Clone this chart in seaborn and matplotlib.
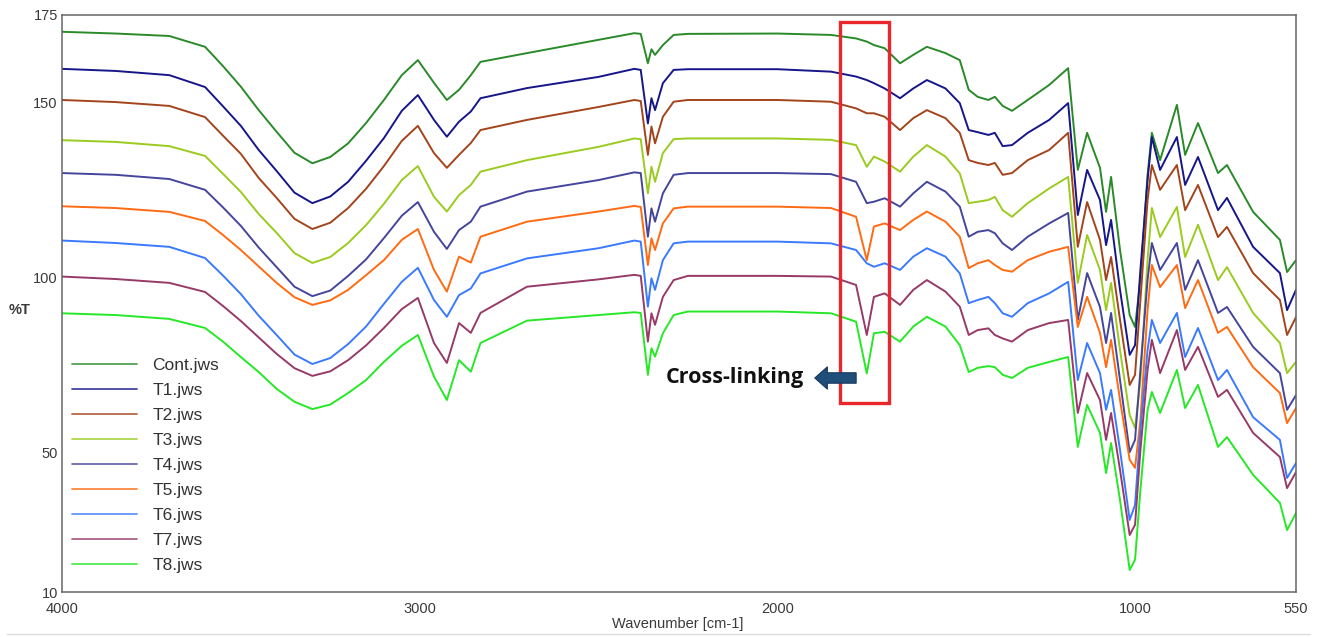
import matplotlib
matplotlib.use('Agg')
import matplotlib.pyplot as plt
import pandas as pd
import seaborn as sns

# wavenumber grid (cm-1)
wavenumber = [4000, 3850, 3700, 3600, 3550, 3500, 3450, 3400, 3350, 3300,
              3250, 3200, 3150, 3100, 3050, 3005,
              2960, 2924, 2890, 2857, 2830, 2700, 2500, 2400, 2382, 2362,
              2352, 2342, 2320, 2290, 2250, 2000, 1850, 1780, 1750, 1730,
              1700, 1657, 1620, 1582, 1530, 1490, 1465, 1440, 1410, 1392,
              1370, 1344, 1300, 1240, 1187, 1160, 1134, 1098, 1081, 1067,
              1042, 1015, 1000, 985, 965, 953, 930, 883, 860, 824,
              768, 743, 670, 595, 575, 550]

cont = [170.2, 169.7, 169.0, 165.9, 160.4, 154.5, 147.8, 141.6, 135.6, 132.6,
        134.4, 138.3, 144.1, 150.7, 157.8, 162.1,
        155.6, 150.7, 153.6, 157.8, 161.6, 164.1, 167.9, 169.8, 169.6, 161.2,
        165.2, 163.6, 166.4, 169.3, 169.6, 169.7, 169.3, 168.3, 167.4, 166.4,
        165.5, 161.2, 163.6, 165.9, 164.1, 162.1, 153.6, 151.6, 150.7, 151.6,
        149.0, 147.6, 150.7, 155.0, 159.8, 130.7, 141.3, 131.3, 118.7, 128.7,
        107.8, 89.2, 85.8, 99.2, 129.3, 141.3, 133.5, 149.3, 135.0, 144.1,
        129.8, 132.1, 118.7, 110.7, 101.5, 104.9]
t1 = [159.6, 159.0, 157.8, 154.4, 148.9, 143.3, 136.4, 130.4, 124.2, 121.2,
      123.1, 127.3, 133.3, 139.8, 147.6, 152.1,
      145.0, 140.2, 144.5, 147.4, 151.2, 154.1, 157.3, 159.6, 159.3, 144.0,
      151.2, 147.8, 155.5, 159.3, 159.5, 159.5, 158.8, 157.4, 156.4, 155.5,
      154.0, 151.2, 154.0, 156.4, 154.0, 149.8, 142.1, 141.5, 140.7, 141.3,
      137.5, 137.8, 141.3, 145.0, 149.8, 117.8, 130.7, 122.1, 109.2, 116.4,
      96.4, 77.8, 80.6, 102.1, 127.8, 140.1, 130.7, 140.1, 126.4, 134.4,
      119.2, 122.7, 108.7, 101.2, 90.6, 96.4]
t2 = [150.7, 150.1, 149.0, 145.8, 140.5, 135.3, 128.4, 122.7, 116.7, 113.8,
      115.6, 119.8, 125.3, 131.8, 139.0, 143.3,
      135.5, 131.3, 135.0, 138.4, 142.1, 145.0, 148.7, 150.7, 150.4, 135.0,
      143.1, 138.3, 145.9, 150.2, 150.7, 150.7, 150.2, 148.3, 146.9, 146.9,
      145.9, 142.1, 145.5, 147.8, 145.5, 141.3, 133.5, 132.7, 132.1, 132.7,
      129.3, 129.8, 133.5, 136.4, 141.3, 108.7, 121.5, 110.7, 99.2, 105.8,
      87.8, 69.2, 72.1, 93.5, 122.1, 132.1, 125.0, 132.1, 119.2, 126.4,
      111.5, 114.4, 101.2, 93.5, 83.5, 88.6]
t3 = [139.2, 138.7, 137.5, 134.7, 129.6, 124.4, 118.1, 112.7, 106.9, 104.1,
      105.8, 109.8, 114.9, 121.0, 127.8, 131.8,
      123.0, 118.8, 123.5, 126.4, 130.2, 133.5, 137.3, 139.7, 139.5, 124.0,
      131.6, 127.3, 135.5, 139.5, 139.7, 139.7, 139.3, 137.8, 131.6, 134.5,
      133.1, 130.2, 134.5, 137.8, 134.5, 129.7, 121.2, 121.6, 122.1, 123.0,
      119.2, 117.3, 121.2, 125.4, 128.7, 98.4, 112.1, 102.1, 90.6, 98.4,
      79.2, 60.6, 56.9, 70.6, 104.9, 119.8, 111.5, 120.1, 105.8, 115.0,
      99.2, 102.9, 89.8, 81.2, 72.6, 75.8]
t4 = [129.8, 129.3, 128.1, 125.0, 120.0, 114.7, 108.5, 102.9, 97.3, 94.6,
      96.2, 100.4, 105.1, 111.2, 117.6, 121.5,
      113.0, 108.1, 113.5, 115.9, 120.2, 124.5, 127.8, 130.0, 129.8, 111.6,
      119.7, 115.9, 124.0, 129.3, 129.8, 129.8, 129.5, 127.3, 121.2, 121.6,
      122.6, 120.2, 124.0, 127.3, 124.5, 120.2, 111.6, 113.0, 113.5, 112.6,
      109.7, 107.8, 111.6, 115.4, 118.4, 87.8, 101.2, 91.5, 81.2, 89.8,
      70.6, 50.0, 53.5, 73.5, 99.2, 109.8, 102.1, 109.8, 96.4, 104.9,
      89.8, 91.5, 80.1, 72.6, 62.1, 66.3]
t5 = [120.3, 119.8, 118.7, 116.1, 112.1, 107.8, 103.1, 98.4, 94.3, 92.1,
      93.4, 96.4, 100.6, 104.9, 110.7, 113.8,
      102.1, 95.9, 105.9, 104.2, 111.6, 115.9, 118.8, 120.4, 120.1, 103.5,
      111.1, 107.8, 115.4, 119.7, 120.2, 120.2, 119.8, 117.3, 104.9, 114.5,
      115.4, 113.5, 116.4, 118.8, 115.9, 111.6, 102.6, 104.0, 104.9, 103.5,
      102.1, 101.6, 104.9, 107.3, 108.7, 85.8, 94.4, 84.1, 74.3, 82.1,
      64.9, 47.8, 45.5, 59.2, 90.6, 103.5, 97.2, 103.5, 91.2, 99.2,
      84.1, 85.8, 74.3, 66.9, 58.3, 62.6]
t6 = [110.5, 109.8, 108.7, 105.5, 100.5, 95.2, 89.0, 83.5, 77.9, 75.2,
      76.9, 80.9, 85.9, 92.4, 98.7, 102.7,
      93.5, 88.7, 94.9, 96.8, 101.1, 105.4, 108.3, 110.5, 110.2, 91.6,
      99.7, 96.4, 104.9, 109.7, 110.2, 110.2, 109.7, 107.8, 104.0, 103.0,
      104.0, 102.1, 105.9, 108.3, 105.9, 101.1, 92.6, 93.5, 94.4, 92.6,
      89.7, 88.7, 92.6, 95.4, 98.7, 70.6, 81.2, 72.6, 62.1, 67.8,
      50.6, 30.6, 34.9, 56.3, 79.2, 87.8, 81.2, 89.8, 77.2, 85.5,
      70.6, 73.5, 60.0, 53.5, 42.6, 46.9]
t7 = [100.2, 99.5, 98.4, 95.8, 91.8, 87.5, 82.8, 78.1, 74.0, 71.8,
      73.1, 76.3, 80.5, 85.5, 90.9, 94.1,
      81.2, 75.5, 86.9, 84.1, 89.8, 97.3, 99.4, 100.7, 100.4, 81.6,
      89.7, 86.4, 94.4, 99.2, 100.4, 100.4, 100.2, 97.8, 83.5, 94.4,
      95.4, 92.1, 96.4, 99.2, 95.9, 91.6, 83.5, 84.9, 85.4, 83.5,
      82.5, 81.6, 84.9, 86.9, 87.8, 61.2, 72.6, 64.9, 53.5, 61.2,
      44.9, 26.3, 29.2, 50.6, 73.5, 82.1, 72.6, 84.9, 73.5, 80.1,
      65.8, 67.8, 55.5, 48.6, 39.7, 44.3]
t8 = [89.7, 89.2, 88.1, 85.5, 81.6, 77.2, 72.9, 68.1, 64.4, 62.3,
      63.6, 66.9, 70.6, 75.8, 80.4, 83.5,
      71.6, 64.9, 76.3, 73.0, 81.2, 87.6, 89.2, 90.0, 89.8, 72.1,
      79.7, 77.3, 84.0, 89.2, 90.2, 90.2, 89.7, 87.3, 72.5, 84.0,
      84.4, 81.6, 85.9, 88.7, 85.9, 80.6, 72.9, 74.1, 74.6, 74.3,
      72.1, 71.2, 74.1, 75.8, 77.2, 51.5, 63.5, 55.5, 44.0, 52.6,
      36.3, 16.3, 19.2, 39.2, 62.1, 67.2, 61.2, 73.5, 62.6, 69.2,
      51.5, 54.3, 43.5, 35.5, 27.7, 32.6]

samples = ['Cont.jws', 'T1.jws', 'T2.jws', 'T3.jws', 'T4.jws',
           'T5.jws', 'T6.jws', 'T7.jws', 'T8.jws']
colors = ['#2a8a2a', '#16168a', '#a3441c', '#9acb1e', '#45459c',
          '#ff6a12', '#3a7aff', '#973a68', '#26e826']

xticks = [4000, 3000, 2000, 1000, 550]
xticks_minor = [3500, 2500, 1500]
yticks = [10, 50, 100, 150, 175]
yticks_minor = [25, 75, 125]

# cross-linking highlight (box range and arrow position in data units)
box_wn = (1825, 1688)
box_t = (64.0, 173.0)
arrow_y = 71.2

# build long-form table
rows = []
for name, vals in zip(samples, [cont, t1, t2, t3, t4, t5, t6, t7, t8]):
    rows.append(pd.DataFrame({'wavenumber': wavenumber, 'T': vals, 'sample': name}))
df = pd.concat(rows, ignore_index=True)

sns.set_style('white')
plt.rcParams['font.family'] = ['Liberation Sans', 'DejaVu Sans']

fig = plt.figure(figsize=(13.17, 6.37), dpi=100)
ax = fig.add_axes([62 / 1317, 45 / 637, 1234 / 1317, 577 / 637])

sns.lineplot(data=df, x='wavenumber', y='T', hue='sample', hue_order=samples,
             palette=colors, linewidth=1.4, estimator=None, ax=ax)

ax.set_xlim(4000, 550)
ax.set_ylim(10, 175)

ax.set_xticks(xticks)
ax.set_xticklabels([str(v) for v in xticks])
ax.set_xticks(xticks_minor, minor=True)
ax.set_yticks(yticks)
ax.set_yticklabels([str(v) for v in yticks])
ax.set_yticks(yticks_minor, minor=True)
ax.tick_params(axis='both', which='both', direction='in', colors='#555555',
               labelcolor='#3a3a3a', labelsize=10.5, width=1)
ax.tick_params(axis='x', which='major', length=7, pad=7)
ax.tick_params(axis='x', which='minor', length=4)
ax.tick_params(axis='y', which='major', length=5, pad=3)
ax.tick_params(axis='y', which='minor', length=4)
for s in ax.spines.values():
    s.set_color('#666666')
    s.set_linewidth(1.1)

ax.set_xlabel('Wavenumber [cm-1]', fontsize=10.5, color='#3a3a3a', va='center')
ax.xaxis.set_label_coords(0.499, -0.0555)
ax.set_ylabel('%T', fontsize=10.5, color='#3a3a3a', rotation=0,
              fontweight='bold', va='center', ha='center')
ax.yaxis.set_label_coords(-0.034, 0.489)

handles, labels = ax.get_legend_handles_labels()
for h in handles:
    h.set_linewidth(1.3)
    h.set_alpha(0.8)
leg = ax.legend(handles, labels, loc='upper left', bbox_to_anchor=(0.0084, 0.405),
                frameon=False, fontsize=12.5, handlelength=3.7, handletextpad=0.9,
                labelspacing=0.565, borderpad=0, borderaxespad=0)
for t in leg.get_texts():
    t.set_color('#333333')

# red box around the cross-linking band
ax.add_patch(plt.Rectangle((box_wn[1], box_t[0]), box_wn[0] - box_wn[1],
                           box_t[1] - box_t[0], fill=False, ec='#e8262b', lw=2.4,
                           zorder=5))
ax.annotate('', xy=(1903, arrow_y), xytext=(1772, arrow_y),
            arrowprops=dict(arrowstyle='simple,head_length=0.9,head_width=1.6,tail_width=0.75',
                            fc='#1f4e79', ec='#17375e', lw=0.8, mutation_scale=10),
            zorder=6)
ax.text(1925, arrow_y, 'Cross-linking', ha='right', va='center', fontsize=15.5,
        fontweight='bold', family='Open Sans', color='#111111')

fig.add_artist(plt.Line2D([0.005, 0.995], [0.004, 0.004], color='#dddddd', lw=1))

fig.savefig('out.png', dpi=100)
